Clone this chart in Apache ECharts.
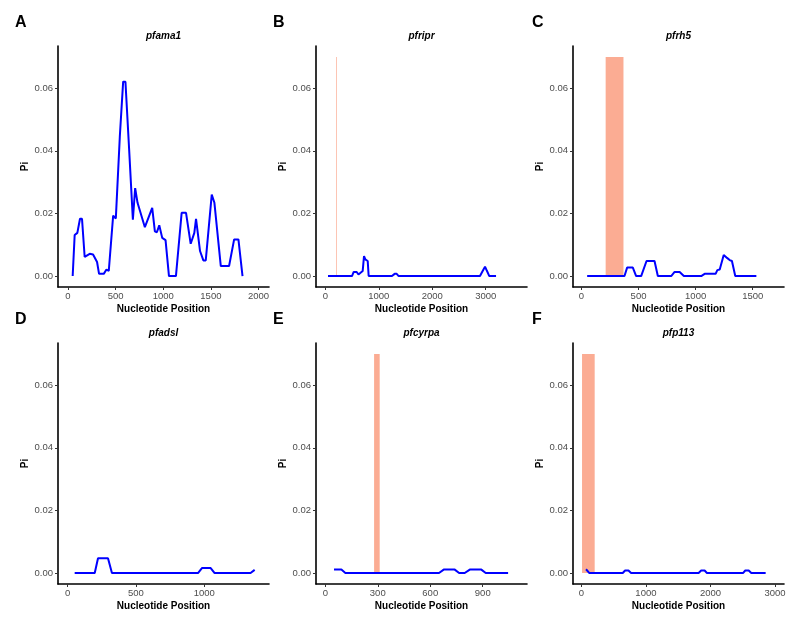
<!DOCTYPE html>
<html><head><meta charset="utf-8">
<script src="https://cdn.jsdelivr.net/npm/echarts@6/dist/echarts.min.js"></script>
<style>html,body{margin:0;padding:0;background:#fff}#c{width:800px;height:625px}</style>
</head><body><div id="c"></div><script>
// ---- data ----
const panelLetters = ['A','B','C','D','E','F'];
const geneNames = ['pfama1','pfripr','pfrh5','pfadsl','pfcyrpa','pfp113'];

const posA = [49,70,98,126,147,175,228,263,305,326,375,404,428,474,502,544,579,603,642,681,705,730,807,884,912,933,958,989,1024,1060,1133,1193,1239,1288,1326,1344,1361,1386,1421,1446,1509,1537,1604,1691,1744,1789,1832];
const piA  = [0,0.0131,0.0138,0.0183,0.0183,0.0061,0.0071,0.0069,0.0045,0.0007,0.0007,0.0021,0.0016,0.0193,0.0184,0.0446,0.0621,0.0621,0.0403,0.018,0.0281,0.0234,0.0156,0.0218,0.0143,0.014,0.0162,0.0122,0.0115,0,0,0.0202,0.0202,0.0103,0.0138,0.0183,0.0183,0.008,0.005,0.005,0.026,0.0234,0.0032,0.0032,0.0117,0.0117,0];

const posB = [50,499,531,587,620,699,724,748,793,811,1247,1297,1335,1372,2893,2943,2987,3024,3067,3193];
const piB  = [0,0,0.0013,0.0013,0.0005,0.0016,0.0064,0.0053,0.0048,0,0,0.0007,0.0007,0,0,0.0016,0.003,0.0016,0,0];

const posC = [50,377,400,450,479,523,570,640,669,786,816,860,897,1049,1079,1175,1190,1211,1246,1275,1298,1318,1347,1532];
const piC  = [0,0,0.0027,0.0027,0,0,0.0048,0.0048,0,0,0.0013,0.0013,0,0,0.0007,0.0007,0.0019,0.0021,0.0067,0.0058,0.0051,0.0048,0,0];

const posD = [51,198,222,295,324,954,983,1047,1076,1339,1369,1372];
const piD  = [0,0,0.0047,0.0047,0,0,0.0016,0.0016,0,0,0.001,0.001];

const posE = [50,92,115,650,677,740,765,797,826,892,917,1045];
const piE  = [0.0011,0.0011,0,0,0.0011,0.0011,0,0,0.0011,0.0011,0,0];

const posF = [72,124,641,677,729,770,1816,1856,1909,1945,2504,2539,2592,2632,2855];
const piF  = [0.0012,0,0,0.0008,0.0008,0,0,0.0008,0.0008,0,0,0.0008,0.0008,0,0];

// highlighted regions [start, end] (null = none)
const rectA = null;
const rectB = [200, 213];
const rectC = [212, 368];
const rectD = null;
const rectE = [279, 311];
const rectF = [10, 206];
const rectTop = 0.07;

// axis ranges and tick labels
const xRanges = [[-105,2110],[-174,3772],[-74,1774],[-71,1474],[-53,1153],[-130,3139]];
const xTicks = [[0,500,1000,1500,2000],[0,1000,2000,3000],[0,500,1000,1500],[0,500,1000],[0,300,600,900],[0,1000,2000,3000]];
const yRange = [-0.0035, 0.0735];
const yTicks = [0,0.02,0.04,0.06];

// ---- layout ----
const positions = [posA,posB,posC,posD,posE,posF];
const pis = [piA,piB,piC,piD,piE,piF];
const rects = [rectA,rectB,rectC,rectD,rectE,rectF];
const lefts = [58,316,573,58,316,573];
const tops = [46,46,46,343,343,343];
const W = 211, H = 241;
const FF = '"Liberation Sans", Arial, sans-serif';

const grid = [], xAxis = [], yAxis = [], series = [], graphic = [];
for (let i = 0; i < 6; i++) {
  grid.push({left: lefts[i], top: tops[i], width: W, height: H});
  xAxis.push({
    type: 'value', gridIndex: i, min: xRanges[i][0], max: xRanges[i][1],
    splitLine: {show: false},
    axisLine: {show: true, onZero: false, lineStyle: {color: '#000', width: 1.6}},
    axisTick: {show: true, length: 3, customValues: xTicks[i], lineStyle: {color: '#333', width: 1}},
    axisLabel: {customValues: xTicks[i], color: '#4D4D4D', fontSize: 9.5, fontFamily: FF, margin: 4,
      formatter: v => String(v)},
    name: 'Nucleotide Position', nameLocation: 'middle', nameGap: 17,
    nameTextStyle: {fontWeight: 'bold', fontSize: 10, color: '#000', fontFamily: FF}
  });
  yAxis.push({
    type: 'value', gridIndex: i, min: yRange[0], max: yRange[1],
    splitLine: {show: false},
    axisLine: {show: true, onZero: false, lineStyle: {color: '#000', width: 1.6}},
    axisTick: {show: true, length: 3, customValues: yTicks, lineStyle: {color: '#333', width: 1}},
    axisLabel: {customValues: yTicks, color: '#4D4D4D', fontSize: 9.5, fontFamily: FF, margin: 5,
      formatter: v => v.toFixed(2)},
    name: 'Pi', nameLocation: 'middle', nameGap: 26,
    nameTextStyle: {fontWeight: 'bold', fontSize: 10, color: '#000', fontFamily: FF}
  });
  if (rects[i]) {
    series.push({
      type: 'custom', xAxisIndex: i, yAxisIndex: i, silent: true, z: 1,
      data: [[rects[i][0], rects[i][1], rectTop]],
      renderItem: (params, api) => {
        const p0 = api.coord([api.value(0), 0]);
        const p1 = api.coord([api.value(1), api.value(2)]);
        return {type: 'rect', shape: {x: p0[0], y: p1[1], width: p1[0] - p0[0], height: p0[1] - p1[1]},
          style: {fill: '#FBAC93'}};
      }
    });
  }
  series.push({
    type: 'line', xAxisIndex: i, yAxisIndex: i, z: 3,
    data: positions[i].map((x, j) => [x, pis[i][j]]),
    showSymbol: false, symbol: 'none',
    lineStyle: {color: '#0000FF', width: 2}
  });
  graphic.push({type: 'text', x: (i % 3 === 0 ? 15 : (i % 3 === 1 ? 273 : 532)), y: tops[i] - 23.5,
    style: {text: panelLetters[i], font: 'bold 16px ' + FF, fill: '#000', align: 'left', verticalAlign: 'middle'}});
  graphic.push({type: 'text', x: lefts[i] + W / 2, y: tops[i] - 10,
    style: {text: geneNames[i], font: 'italic bold 10px ' + FF, fill: '#000', align: 'center', verticalAlign: 'middle'}});
}

const chart = echarts.init(document.getElementById('c'), null, {renderer: 'canvas'});
chart.setOption({
  animation: false,
  backgroundColor: '#fff',
  grid, xAxis, yAxis, series, graphic
});
</script></body></html>
